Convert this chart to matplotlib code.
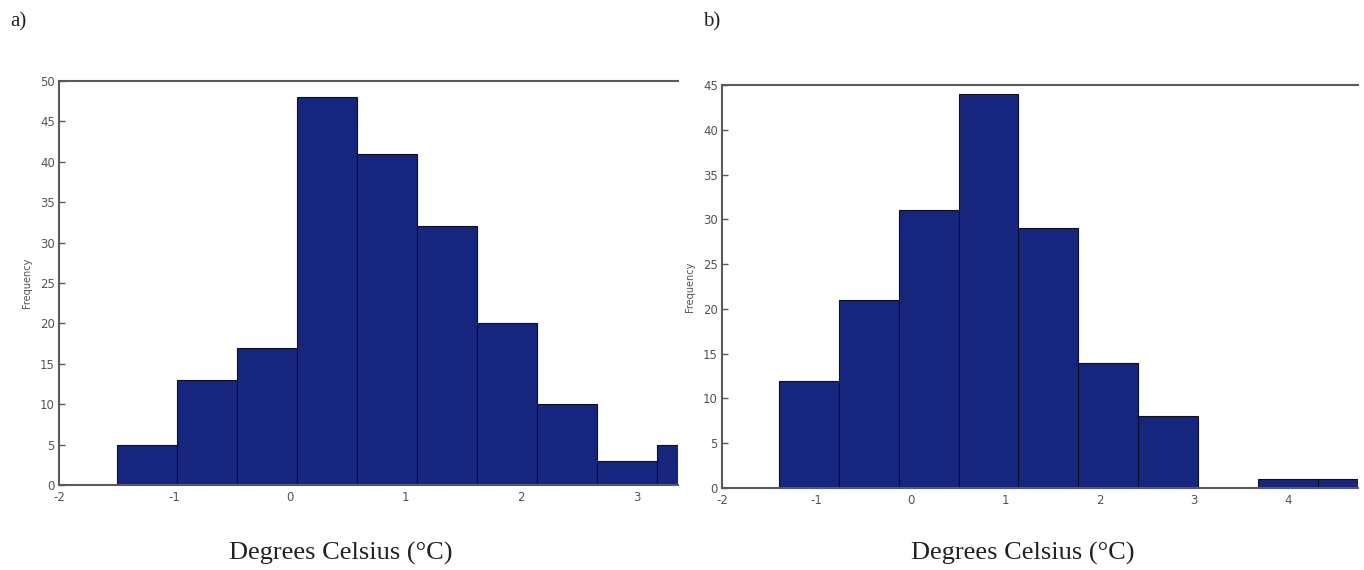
import matplotlib
matplotlib.use("Agg")
import matplotlib.pyplot as plt
import numpy as np

plt.rcParams["axes.unicode_minus"] = False

# Panel a) histogram
a_start = -1.50
a_width = 0.52
a_counts = [5, 13, 17, 48, 41, 32, 20, 10, 3, 5]
a_xticks = [-2, -1, 0, 1, 2, 3]
a_yticks = [0, 5, 10, 15, 20, 25, 30, 35, 40, 45, 50]

# Panel b) histogram
b_start = -1.395
b_width = 0.634
b_counts = [12, 21, 31, 44, 29, 14, 8, 0, 1, 1]
b_xticks = [-2, -1, 0, 1, 2, 3, 4]
b_yticks = [0, 5, 10, 15, 20, 25, 30, 35, 40, 45]

bar_color = "#16267e"
spine_color = "#5a5a5a"
tick_color = "#555555"

fig = plt.figure(figsize=(13.64, 5.70), dpi=100)
fig.patch.set_facecolor("white")

ax1 = fig.add_axes([0.0433, 0.1491, 0.4538, 0.7088])
ax2 = fig.add_axes([0.5293, 0.1439, 0.4663, 0.7070])


def draw(ax, start, width, counts, xticks, yticks, xlim, ylim):
    lefts = start + width * np.arange(len(counts))
    ax.bar(lefts, counts, width=width, align="edge", color=bar_color,
           edgecolor="#0b0f2a", linewidth=0.8, clip_on=True)
    ax.set_xlim(*xlim)
    ax.set_ylim(*ylim)
    ax.set_xticks(xticks)
    ax.set_yticks(yticks)
    ax.tick_params(axis="both", direction="in", length=4, width=1,
                   color=spine_color, labelsize=8.5, labelcolor=tick_color, pad=3)
    ax.tick_params(axis="x", length=0, pad=4)
    for s in ["left", "bottom", "top"]:
        ax.spines[s].set_color(spine_color)
        ax.spines[s].set_linewidth(1.5)
    ax.spines["right"].set_visible(False)
    ax.set_ylabel("Frequency", fontsize=7, color="#555555", labelpad=6)
    ax.set_facecolor("white")


draw(ax1, a_start, a_width, a_counts, a_xticks, a_yticks, (-2, 3.36), (0, 50))
draw(ax2, b_start, b_width, b_counts, b_xticks, b_yticks, (-2, 4.74), (0, 45))

serif = ["Liberation Serif", "DejaVu Serif"]
fig.text(341 / 1364, 1 - 553 / 570, "Degrees Celsius (°C)", family=serif,
         fontsize=19, ha="center", va="center", color="#222222")
fig.text(1023 / 1364, 1 - 553 / 570, "Degrees Celsius (°C)", family=serif,
         fontsize=19, ha="center", va="center", color="#222222")
fig.text(10 / 1364, 1 - 22 / 570, "a)", family=serif, fontsize=15,
         ha="left", va="center", color="#222222")
fig.text(703 / 1364, 1 - 22 / 570, "b)", family=serif, fontsize=15,
         ha="left", va="center", color="#222222")

fig.savefig("out.png", dpi=100, facecolor="white")
